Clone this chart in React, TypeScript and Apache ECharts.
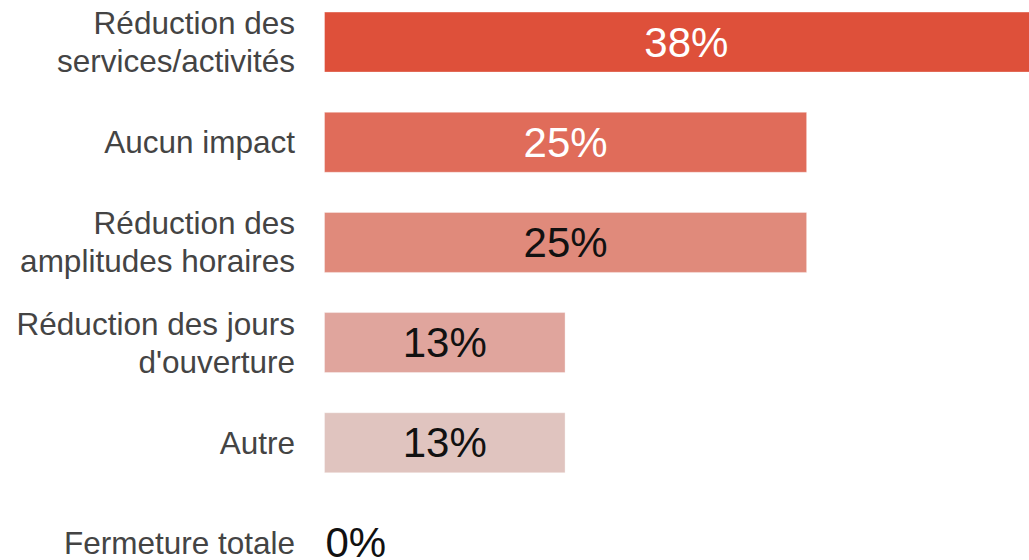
import React, { useEffect, useRef } from "react";
import * as echarts from "echarts";

const categories = [
  "Réduction des\nservices/activités",
  "Aucun impact",
  "Réduction des\namplitudes horaires",
  "Réduction des jours\nd'ouverture",
  "Autre",
  "Fermeture totale",
];
const values = [37.5, 25, 25, 12.5, 12.5, 0];
const barColors = ["#de503a", "#e06c5a", "#e08a7b", "#e0a59d", "#e0c4bf", "#e0d8d6"];
const labelColors = ["#ffffff", "#ffffff", "#111111", "#111111", "#111111", "#111111"];

const FONT = "'Liberation Sans', Arial, Helvetica, sans-serif";

export default function App() {
  const ref = useRef<HTMLDivElement>(null);
  useEffect(() => {
    if (!ref.current) return;
    const chart = echarts.init(ref.current, null, { renderer: "svg" });
    chart.setOption({
      animation: false,
      backgroundColor: "#ffffff",
      textStyle: { fontFamily: FONT },
      grid: { left: 324, right: 3, top: 12, bottom: 27, containLabel: false },
      xAxis: {
        type: "value",
        min: 0,
        max: 40,
        show: false,
        splitLine: { show: false },
      },
      yAxis: {
        type: "category",
        data: categories,
        inverse: true,
        axisLine: { show: false },
        axisTick: { show: false },
        splitLine: { show: false },
        axisLabel: {
          fontSize: 31.5,
          lineHeight: 38,
          color: "#444444",
          margin: 29,
          fontFamily: FONT,
          align: "right",
        },
      },
      series: [
        {
          type: "bar",
          barWidth: 61,
          data: values.map((v, i) => ({
            value: v,
            itemStyle: {
              color: barColors[i],
              borderColor: "rgba(255,255,255,0.35)",
              borderWidth: 1,
            },
            label: {
              show: true,
              position: v === 0 ? "right" : "inside",
              distance: v === 0 ? 1 : 5,
              color: labelColors[i],
              fontSize: 42,
              fontFamily: FONT,
              formatter: (p: any) => Math.round(p.value) + "%",
            },
          })),
        },
      ],
    });
    return () => chart.dispose();
  }, []);
  return (
    <div
      style={{
        position: "fixed",
        left: 0,
        top: 0,
        width: 1029,
        height: 560,
        overflow: "hidden",
        background: "#fff",
      }}
    >
      <div
        ref={ref}
        style={{ position: "absolute", left: 0, top: -20, width: 1100, height: 640 }}
      />
    </div>
  );
}
